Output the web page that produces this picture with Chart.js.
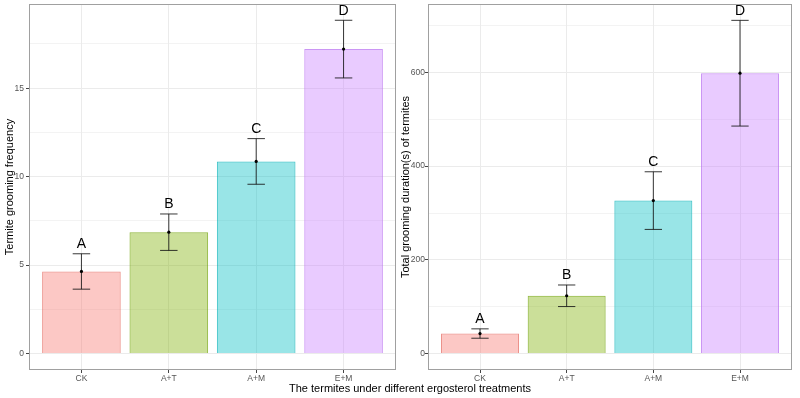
<!DOCTYPE html>
<html>
<head>
<meta charset="utf-8">
<script src="https://cdn.jsdelivr.net/npm/chart.js@4/dist/chart.umd.min.js"></script>
<style>
  html, body { margin: 0; padding: 0; background: #ffffff; }
  #wrap { position: relative; width: 800px; height: 398px; overflow: hidden; }
  canvas { position: absolute; top: 0; }
  #xtitle { position: absolute; left: 0; width: 820px; top: 382px; text-align: center;
            font-family: 'Liberation Sans', Arial, sans-serif; font-size: 11px; color: #000; line-height: 13px; }
</style>
</head>
<body>
<div id="wrap">
  <canvas id="left" width="400" height="398" style="left:0"></canvas>
  <canvas id="right" width="400" height="398" style="left:400px"></canvas>
  <div id="xtitle">The termites under different ergosterol treatments</div>
</div>
<script>
// ---- data ----
const categories = ['CK', 'A+T', 'A+M', 'E+M'];
const letters = ['A', 'B', 'C', 'D'];
const frequencyMean = [4.64, 6.86, 10.86, 17.21];
const frequencyErr = [1.0, 1.03, 1.29, 1.63];
const durationMean = [42.8, 123.4, 326.5, 598.3];
const durationErr = [10, 23, 61.5, 112.8];
const frequencyTicks = [0, 5, 10, 15];
const durationTicks = [0, 200, 400, 600];

const fills = ['rgba(248,118,109,0.4)', 'rgba(124,174,0,0.4)', 'rgba(0,191,196,0.4)', 'rgba(199,124,255,0.4)'];
const borders = ['rgba(230,110,100,0.75)', 'rgba(110,160,0,0.75)', 'rgba(0,175,180,0.75)', 'rgba(185,115,240,0.75)'];
const FONT = "'Liberation Sans', Arial, sans-serif";

const errorPlugin = {
  id: 'errs',
  afterDatasetsDraw(chart, args, opts) {
    const ctx = chart.ctx, xs = chart.scales.x, ys = chart.scales.y;
    const means = opts.means, errs = opts.errs;
    ctx.save();
    means.forEach((m, i) => {
      const x = xs.getPixelForValue(i);
      const yt = ys.getPixelForValue(m + errs[i]);
      const yb = ys.getPixelForValue(m - errs[i]);
      const ym = ys.getPixelForValue(m);
      const half = (xs.getPixelForValue(0.1) - xs.getPixelForValue(0));
      ctx.strokeStyle = 'rgba(20,20,20,0.85)';
      ctx.lineWidth = 1;
      ctx.beginPath();
      ctx.moveTo(x, yt); ctx.lineTo(x, yb);
      ctx.moveTo(x - half, yt); ctx.lineTo(x + half, yt);
      ctx.moveTo(x - half, yb); ctx.lineTo(x + half, yb);
      ctx.stroke();
      ctx.fillStyle = '#000';
      ctx.beginPath(); ctx.arc(x, ym, 1.6, 0, Math.PI * 2); ctx.fill();
      ctx.font = '14px ' + FONT;
      ctx.textAlign = 'center';
      ctx.textBaseline = 'alphabetic';
      ctx.fillText(letters[i], x, yt - 5.5);
    });
    ctx.restore();
  }
};

const framePlugin = {
  id: 'frame',
  afterDraw(chart) {
    const a = chart.chartArea, ctx = chart.ctx;
    ctx.save();
    ctx.strokeStyle = '#a0a0a0';
    ctx.lineWidth = 1;
    ctx.strokeRect(Math.round(a.left) + 0.5, Math.round(a.top) + 0.5,
                   Math.round(a.right - a.left) - 1, Math.round(a.bottom - a.top) - 1);
    ctx.restore();
  }
};

function makeChart(id, means, errs, majorTicks, step, yMin, yMax, title, axisW, padRight, titlePad, tickPad) {
  const minorTicks = [];
  for (let v = 0; v <= yMax; v += step / 2) minorTicks.push(v);
  return new Chart(document.getElementById(id), {
    type: 'bar',
    data: {
      datasets: [{
        data: means.map((v, i) => ({ x: i, y: v })),
        backgroundColor: fills,
        borderColor: borders,
        borderWidth: 1,
        barPercentage: 0.9,
        categoryPercentage: 1.0
      }]
    },
    options: {
      responsive: false,
      animation: false,
      layout: { padding: { left: 0, right: padRight, top: 4, bottom: 0 } },
      plugins: {
        legend: { display: false },
        tooltip: { enabled: false },
        errs: { means: means, errs: errs }
      },
      scales: {
        x: {
          type: 'linear',
          offset: false,
          min: -0.6, max: 3.6,
          afterBuildTicks(s) { s.ticks = categories.map((c, i) => ({ value: i })); },
          afterFit(s) { s.height = 28; s.paddingLeft = 0; s.paddingRight = 0; },
          ticks: {
            callback: (v) => categories[v] !== undefined ? categories[v] : '',
            color: '#555', font: { family: FONT, size: 8.5 }, padding: 1, maxRotation: 0, autoSkip: false
          },
          grid: { color: '#ebebeb', lineWidth: 1, tickColor: '#444', tickLength: 3, offset: false },
          border: { display: false }
        },
        y: {
          min: yMin, max: yMax,
          afterBuildTicks(s) { s.ticks = minorTicks.filter(v => v < yMax).map(v => ({ value: v })); },
          afterFit(s) { s.width = axisW; s.paddingTop = 0; s.paddingBottom = 0; },
          ticks: {
            callback: (v) => majorTicks.includes(v) ? String(v) : '',
            color: '#555', font: { family: FONT, size: 8.5 }, padding: tickPad, autoSkip: false
          },
          grid: {
            color: '#ebebeb',
            lineWidth: (c) => (c.tick && majorTicks.includes(c.tick.value)) ? 1 : 0.6,
            tickColor: (c) => (c.tick && majorTicks.includes(c.tick.value)) ? '#444' : 'rgba(0,0,0,0)',
            tickLength: 3
          },
          border: { display: false },
          title: { display: true, text: title, color: '#000',
                   font: { family: FONT, size: 11, lineHeight: 1 }, padding: { top: titlePad, bottom: 0 } }
        }
      }
    },
    plugins: [errorPlugin, framePlugin]
  });
}

makeChart('left', frequencyMean, frequencyErr, frequencyTicks, 5, -0.93, 19.76,
          'Termite grooming frequency', 29, 4, 4, 2);
makeChart('right', durationMean, durationErr, durationTicks, 200, -35, 746,
          'Total grooming duration(s) of termites', 28, 8, 0, 0);
</script>
</body>
</html>
